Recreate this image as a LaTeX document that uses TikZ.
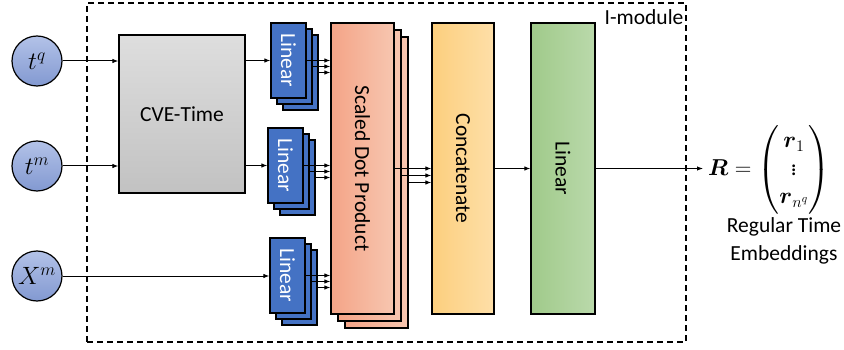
\RequirePackage{fix-cm}
\documentclass[tikz,border=0pt]{standalone}
\usepackage{amsmath}
\usepackage{fontspec}
\setmainfont{Carlito}
\usetikzlibrary{calc,arrows.meta,positioning}
\definecolor{linblue}{HTML}{4472C4}
\definecolor{inptop}{HTML}{B3C2E8}
\definecolor{inpbot}{HTML}{8299D1}
\definecolor{sdpl}{HTML}{F4A487}
\definecolor{sdpr}{HTML}{F7C6B0}
\definecolor{catl}{HTML}{FCCF7E}
\definecolor{catr}{HTML}{FEDFA8}
\definecolor{linl}{HTML}{A0CA8A}
\definecolor{linr}{HTML}{BAD9AB}
\tikzset{
  arr/.style={-{Latex[length=6pt,width=4.5pt]},line width=1pt},
  inp/.style={circle,draw,line width=1.2pt,minimum size=50pt,inner sep=0pt,top color=inptop,bottom color=inpbot,font=\fontsize{25}{30}\selectfont},
  cvebox/.style={draw,line width=1.2pt,minimum width=126pt,minimum height=158pt,top color=black!13,bottom color=black!24},
  linbox/.style={draw,line width=1.2pt,fill=linblue,minimum width=35pt,minimum height=75pt,inner sep=0pt,text=white},
  sdpbox/.style={draw,line width=1.2pt,left color=sdpl,right color=sdpr,minimum width=63pt,minimum height=291pt,inner sep=0pt},
  tallbox/.style={draw,line width=1.2pt,minimum width=63pt,minimum height=291pt,inner sep=0pt}
}
\begin{document}
\begin{tikzpicture}[x=1pt,y=-1pt,font=\fontsize{21.5}{28}\selectfont]
\useasboundingbox (0,0) rectangle (844,350);
\def\lw{35}
\def\lh{75}
\def\off{6}

\node[draw,dashed,dash pattern=on 6pt off 4pt,line width=1.2pt,minimum width=599pt,minimum height=339pt] (imod) at (386.5,172.5){};
\node[anchor=north east,inner sep=1pt] (imodlabel) at ($(imod.north east)+(-2,6)$){I-module};

\node[inp] (tq) at (37,61){$t^q$};
\node[inp] (tm) at (37,166){$t^m$};
\node[inp] (Xm) at (37,276){$X^m$};

\node[cvebox] (cve) at (182,114){CVE-Time};

\foreach \n/\x/\y in {1/271/23,2/268/128,3/270/238}
{
\node[linbox] (L\n s2) at (\x+2*\off+\lw/2,\y+2*\off+\lh/2){};
\node[linbox] (L\n s1) at (\x+\off+\lw/2,\y+\off+\lh/2){};
\node[linbox] (L\n s0) at (\x+\lw/2,\y+\lh/2){\rotatebox{-90}{Linear}};
}

\node[sdpbox] (S2) at (362.5+14,168.5+14){};
\node[sdpbox] (S1) at (362.5+7,168.5+7){};
\node[sdpbox] (S0) at (362.5,168.5){\rotatebox{-90}{Scaled Dot Product}};

\node[tallbox,left color=catl,right color=catr,minimum width=62pt] (cat) at (463,168.5){\rotatebox{-90}{Concatenate}};
\node[tallbox,left color=linl,right color=linr,minimum width=64pt] (lin) at (563,168.5){\rotatebox{-90}{Linear}};

\draw[arr] (tq.east) -- (tq -| cve.west);
\draw[arr] (tm.east) -- (tm -| cve.west);
\draw[arr] (Xm.east) -- (Xm -| L3s0.west);
\draw[arr] (cve.east |- L1s0) -- (L1s0.west);
\draw[arr] (cve.east |- L2s0) -- (L2s0.west);

\foreach \n in {1,2,3}
{
\foreach \k in {0,1,2}
\draw[arr] (L\n s\k.east) -- (L\n s\k.east -| S0.west);
}

\foreach \k in {0,1,2}
\draw[arr] (S\k.east) -- (S\k.east -| cat.west);

\draw[arr] (cat.east) -- (lin.west);
\coordinate (out) at (703,168.5);
\draw[arr] (lin.east) -- (out);

\node[anchor=west,inner sep=0pt,font=\fontsize{23}{28}\selectfont] (R) at (708,170){$\boldsymbol{R}=\begin{pmatrix}\boldsymbol{r}_1\\ \vdots\\ \boldsymbol{r}_{n^q}\end{pmatrix}$};
\node[align=center] (emb) at (784,241){Regular Time\\Embeddings};

\end{tikzpicture}
\end{document}
